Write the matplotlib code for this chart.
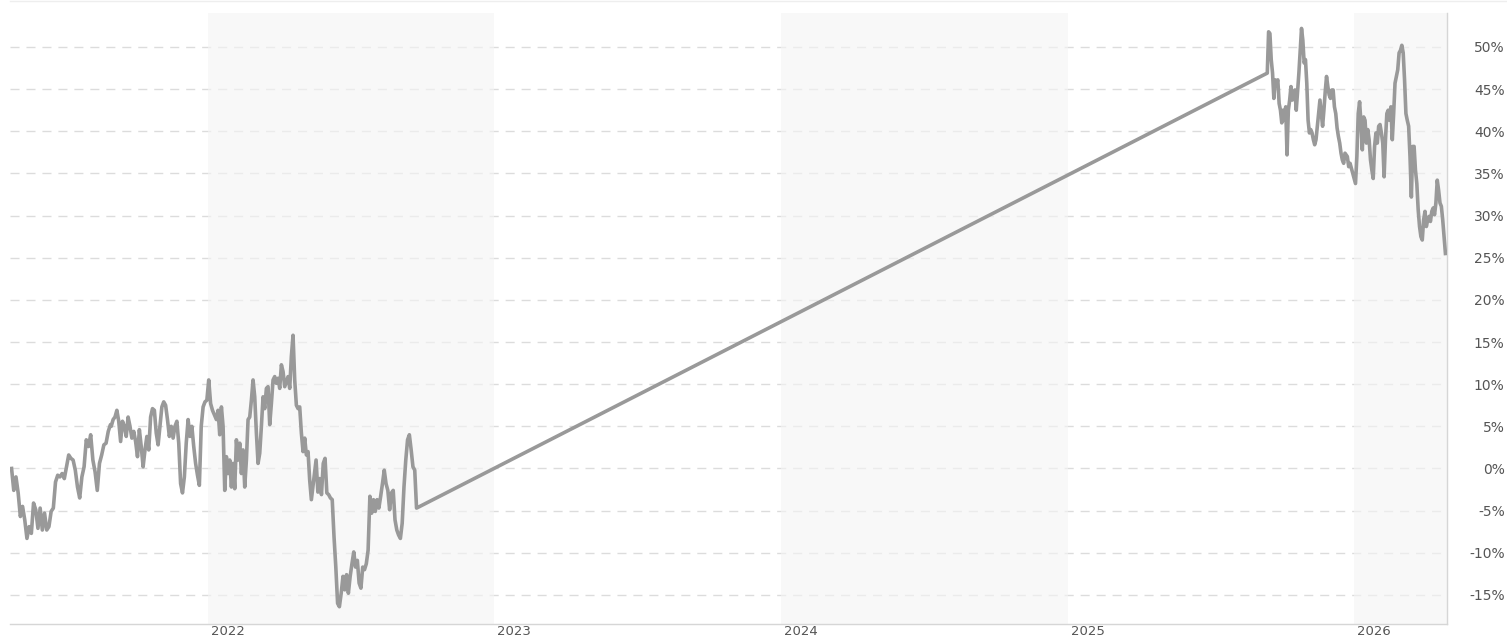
import matplotlib
matplotlib.use("Agg")
import matplotlib.pyplot as plt
import matplotlib.transforms as mtransforms
from matplotlib.lines import Line2D
import pandas as pd

# values (percent), in chunks with their date spans
vals_2021 = [0.0, -2.6, -1.0, -2.9, -5.7, -4.5, -6.1, -8.3, -6.9, -7.7, -4.1, -4.9, -7.1, -4.7,
             -7.3, -5.3, -7.3, -6.9, -5.1, -4.7, -1.6, -0.8, -1.0, -0.6, -1.2, 0.2, 1.6, 1.2, 1.0,
             -0.2, -2.2, -3.5, -1.0, 0.2, 3.4, 2.6, 4.0, 1.0, -0.4, -2.6, 0.6, 1.6, 2.8, 3.0, 4.4, 5.2]
vals_2021b = [5.0, 5.8, 6.1, 6.9, 5.6, 3.2, 5.6, 5.0, 3.8, 6.1, 5.0, 3.6, 4.4, 3.2, 1.4, 4.6, 2.6,
              0.2, 2.2, 3.8, 2.2, 6.1, 7.1, 6.9, 4.2, 2.8, 5.0, 7.3, 7.9, 7.5, 5.8, 3.8, 5.0, 3.6,
              5.0, 5.6, 3.0, -1.8, -2.9, -1.0, 3.0, 5.8, 3.8, 5.0, 2.6, 0.6, -0.8, -2.0, 5.0, 7.3,
              7.9, 8.1, 10.5, 7.7, 6.9]
vals_2022a = [5.8, 6.9, 4.0, 7.3, 5.0, -2.6, 1.4, -0.6, 1.0, -2.2, 0.6, -2.4, 3.4, 1.0, 3.0, -0.6,
              2.2, -2.2, 1.0, 5.8, 6.1, 8.1, 10.5, 8.5, 4.2, 0.6, 1.8, 5.0, 8.5, 7.1, 9.5, 9.7, 5.2,
              7.7, 10.5, 10.9, 10.1, 10.7, 9.5, 12.3, 11.5, 9.7, 10.3, 10.9, 9.5, 13.3, 15.8, 10.5,
              7.5, 7.1, 7.3, 4.2, 2.0, 3.6, 1.6, 2.0, -1.4, -3.7]
vals_2022b = [1.0, -2.8, -1.2, -3.1, 0.6, 1.2, -2.9, -3.1, -3.5, -3.7, -8.1, -11.7, -16.0, -16.4,
              -14.8, -12.8, -14.4, -12.6, -14.8, -12.8, -11.3, -9.9, -11.7, -10.9, -13.6, -14.2,
              -11.7, -12.0, -11.3, -9.7, -3.3, -5.3, -3.7, -5.1, -3.7, -4.7, -3.3, -1.8, -0.2, -1.8,
              -2.6, -4.9, -2.9, -2.6, -6.1, -7.3, -7.9, -8.3, -6.5, -2.2, 1.0, 3.4, 4.0, 2.2, 0.2,
              -0.2, -4.7]
vals_2025 = [46.9, 51.8, 51.6, 48.5, 46.9, 43.9, 46.1, 45.7, 46.1, 43.3, 42.5, 41.0, 42.5, 41.3,
             42.9, 37.2, 42.5, 43.7, 45.3, 43.7, 44.5, 44.9, 42.5, 44.7, 46.9, 49.6, 52.2, 50.8,
             48.1, 48.5, 45.7, 41.3, 39.8, 40.2, 39.8, 39.0, 38.4, 39.0, 40.6, 42.3, 43.7, 42.1,
             40.6, 42.5, 44.7, 46.5, 45.3, 44.3, 43.9, 44.9, 44.9, 42.9, 42.1, 40.4, 39.4, 38.6,
             37.4, 36.6, 36.2, 37.4]
vals_2026 = [37.0, 35.8, 36.2, 35.6, 35.0, 34.4, 33.8, 37.0, 42.1, 43.5, 41.0, 37.8, 41.7, 41.3,
             38.6, 40.2, 39.0, 36.6, 35.4, 34.4, 38.2, 39.8, 38.6, 40.6, 40.8, 39.8, 38.6, 34.6,
             39.0, 42.1, 42.5, 41.3, 42.9, 39.0, 42.1, 45.7, 46.5, 47.3, 49.3, 49.6, 50.2, 49.3,
             46.1, 42.1, 41.3, 40.6, 37.0, 32.2, 38.2, 38.2, 35.4, 33.8, 30.7, 28.7, 27.5, 27.1,
             29.5, 30.5, 28.7, 29.5, 29.9, 29.3, 30.5, 30.9, 30.1, 31.5, 34.2, 33.0, 31.5, 31.1,
             29.5, 27.5, 25.5]

chunks = [vals_2021, vals_2021b, vals_2022a, vals_2022b, vals_2025, vals_2026]
chunk_spans = [("2021-04-26", "2021-08-30"), ("2021-08-31", "2022-01-07"),
               ("2022-01-12", "2022-05-13"), ("2022-05-19", "2022-09-24"),
               ("2025-09-12", "2025-12-20"), ("2025-12-23", "2026-04-27")]

shaded_years = [2022, 2024, 2026]
year_ticks = [2022, 2023, 2024, 2025, 2026]
y_ticks = list(range(-15, 55, 5))

dates = []
values = []
for (start, end), vals in zip(chunk_spans, chunks):
    dates.extend(pd.date_range(start, end, periods=len(vals)))
    values.extend(vals)

fig = plt.figure(figsize=(15.07, 6.39), dpi=100)
ax = fig.add_axes([10 / 1507, 15 / 639, 1437 / 1507, 611 / 639])

for y in shaded_years:
    ax.axvspan(pd.Timestamp(f"{y}-01-01"), pd.Timestamp(f"{y + 1}-01-01"),
               color="#f4f4f4", alpha=0.63, lw=0, zorder=1)

ax.plot(dates, values, color="#999999", lw=2.6, zorder=3)

ax.set_xlim(pd.Timestamp("2021-04-24"), pd.Timestamp("2026-04-29"))
ax.set_ylim(-18.45, 54.03)

ax.set_axisbelow(True)
ax.yaxis.grid(True, color="#dcdcdc", lw=1.0, linestyle=(0, (6.5, 5)))
ax.xaxis.grid(False)

ax.yaxis.tick_right()
ax.set_yticks(y_ticks)
ax.set_yticklabels([f"{v}%" for v in y_ticks])
ax.tick_params(axis="y", length=0, pad=41.5, labelsize=10, labelcolor="#555555")
for lab in ax.get_yticklabels():
    lab.set_ha("right")

ax.set_xticks([pd.Timestamp(f"{y}-01-01") for y in year_ticks])
ax.set_xticklabels([str(y) for y in year_ticks])
ax.tick_params(axis="x", length=0, pad=1, labelsize=9.5, labelcolor="#555555")
shift = mtransforms.ScaledTranslation(3 / 100, 0, fig.dpi_scale_trans)
for lab in ax.get_xticklabels():
    lab.set_ha("left")
    lab.set_transform(lab.get_transform() + shift)

for side in ["left", "top"]:
    ax.spines[side].set_visible(False)
for side in ["bottom", "right"]:
    ax.spines[side].set_color("#d6d6d6")
    ax.spines[side].set_linewidth(1.0)

fig.add_artist(Line2D([10 / 1507, 1], [1 - 0.5 / 639, 1 - 0.5 / 639], color="#eeeeee", lw=1))

fig.savefig("out.png", dpi=100)
